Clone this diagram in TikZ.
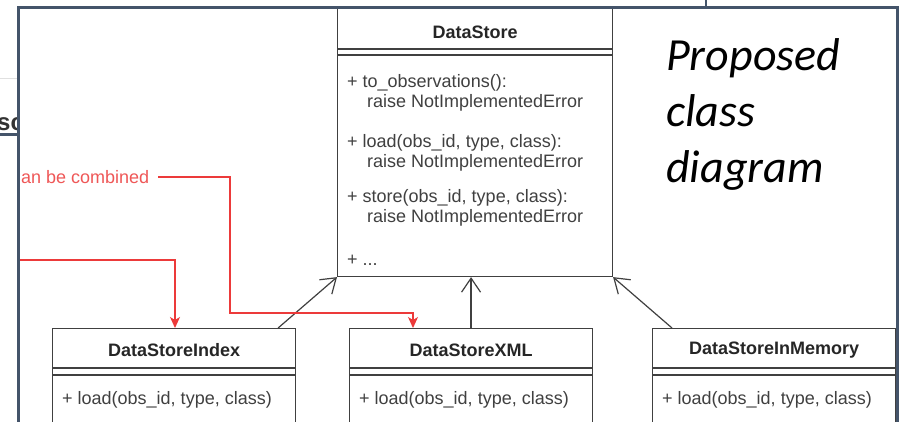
\documentclass[tikz,border=0pt]{standalone}
\usepackage{fontspec}
\setmainfont{Liberation Sans}
\newfontfamily\slidefont{Carlito}
\usetikzlibrary{arrows.meta,positioning}

\definecolor{slate}{RGB}{68,84,106}
\definecolor{linkred}{RGB}{236,58,58}

\tikzset{
  classbox/.style={draw=black!75, line width=1.1pt, fill=white, inner sep=0pt, anchor=north west},
  classsep/.style={draw=black!75, line width=1.1pt},
  classname/.style={font=\fontsize{18}{20}\selectfont\bfseries, text=black!85},
  member/.style={font=\fontsize{18}{20}\selectfont, text=black!75, align=left, anchor=west, inner sep=0pt},
  inherit/.style={draw=black!75, line width=1.2pt, -{Straight Barb[length=14pt,width=19pt]}},
  combine/.style={draw=linkred, line width=1.3pt, -{Stealth[length=11pt,width=10pt,inset=3pt]}},
}

\begin{document}
\begin{tikzpicture}[x=1pt,y=-1pt]
\useasboundingbox (0,0) rectangle (900,421);
\clip (0,0) rectangle (900,421);

% page behind the slide
\draw[black!12, line width=1pt] (0,78) -- (18,78);
\node[font=\fontsize{24}{26}\selectfont\bfseries, text=black!80, anchor=base west, inner sep=0pt] (cut) at (-3,130) {sc};
\draw[slate, line width=3pt] (0,134) -- (18,134);
\draw[slate, line width=2pt] (706,0) -- (706,8);

% slide
\fill[white] (18,7) rectangle (897,440);

% base class
\node[classbox, minimum width=275pt, minimum height=268pt] (store) at (337,8) {};
\node[classname] (storeName) at ([yshift=-24pt]store.north) {DataStore};
\draw[classsep] ([yshift=-41pt]store.north west) -- ([yshift=-41pt]store.north east)
                ([yshift=-47pt]store.north west) -- ([yshift=-47pt]store.north east);
\node[member] (toObs) at ([xshift=10pt,yshift=-85pt]store.north west)
  {+ to\_observations():\\\hspace*{20pt}raise NotImplementedError};
\node[member] (loadAll) at ([xshift=10pt,yshift=-145pt]store.north west)
  {+ load(obs\_id, type, class):\\\hspace*{20pt}raise NotImplementedError};
\node[member] (storeAll) at ([xshift=10pt,yshift=-200pt]store.north west)
  {+ store(obs\_id, type, class):\\\hspace*{20pt}raise NotImplementedError};
\node[member] (more) at ([xshift=10pt,yshift=-252pt]store.north west) {+ ...};

% subclasses
\foreach \n/\x/\t in {idx/52/DataStoreIndex, xml/349/DataStoreXML, mem/652/DataStoreInMemory} {
  \node[classbox, minimum width=243pt, minimum height=120pt] (\n) at (\x,328) {};
  \node[classname] (\n Name) at ([yshift=-22pt]\n.north) {\t};
  \draw[classsep] ([yshift=-40pt]\n.north west) -- ([yshift=-40pt]\n.north east)
                  ([yshift=-47pt]\n.north west) -- ([yshift=-47pt]\n.north east);
  \node[member] (\n Load) at ([xshift=10pt,yshift=-72pt]\n.north west) {+ load(obs\_id, type, class)};
}

% inheritance
\draw[inherit] ([xshift=-18pt]idx.north east) -- (store.south west);
\draw[inherit] (xml.north) -- (xml.north |- store.south);
\draw[inherit] ([xshift=20pt]mem.north west) -- (store.south east);

% red notes
\node[font=\fontsize{18}{20}\selectfont, text=linkred!85, anchor=west, inner sep=0pt] (combo) at (21,177) {an be combined};
\coordinate (bendA) at (230,313);
\draw[combine] ([xshift=9pt]combo.east) -| (bendA) -| ([xshift=64pt]xml.north west);
\coordinate (feed) at (19,260);
\draw[combine] (feed) -| ([xshift=123pt]idx.north west);

\node[anchor=north west, inner sep=0pt, align=left, font=\slidefont\itshape\fontsize{46}{56}\selectfont] (caption) at (666,38)
  {Proposed\\class\\diagram};

% outline
\draw[slate, line width=3pt] (18,7) rectangle (897,440);
\end{tikzpicture}
\end{document}
